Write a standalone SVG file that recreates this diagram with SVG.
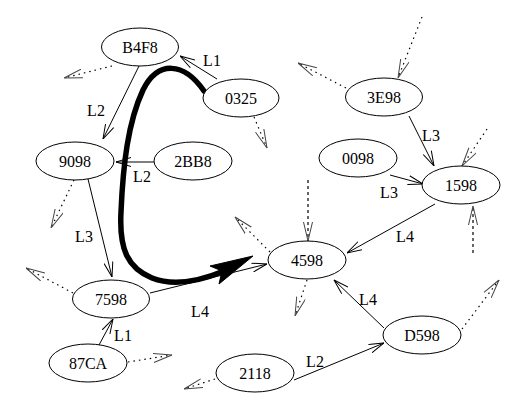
<svg xmlns="http://www.w3.org/2000/svg" width="527" height="412" viewBox="0 0 527 412" font-family="'Liberation Serif', 'Times New Roman', serif">
<style>
.node ellipse{fill:#fff;stroke:#000;stroke-width:1}
text{font-family:'Liberation Serif','Times New Roman',serif;font-size:16px;fill:#000;text-anchor:middle}
.e{stroke:#000;stroke-width:1;fill:none;marker-end:url(#ah)}
.d{stroke:#000;stroke-width:1.2;fill:none;stroke-dasharray:1.5,4;marker-end:url(#dh)}
</style>
<defs>
<marker id="ah" markerUnits="userSpaceOnUse" viewBox="0 0 15 10" refX="15" refY="5" markerWidth="15" markerHeight="10" orient="auto">
<path d="M0,0.5 L15,5 L0,9.5" fill="none" stroke="#000" stroke-width="1"/>
</marker>
<marker id="dh" markerUnits="userSpaceOnUse" viewBox="0 0 19 10" refX="19" refY="5" markerWidth="19" markerHeight="10" orient="auto">
<path d="M0,0.5 L19,5 L0,9.5" fill="none" stroke="#444" stroke-width="1"/>
</marker>
</defs>
<g id="connectors">
<line class="e" x1="217" y1="79" x2="180" y2="56"/>
<line class="e" x1="139" y1="66" x2="103" y2="139"/>
<line class="e" x1="154" y1="162" x2="116" y2="162"/>
<line class="e" x1="88" y1="179" x2="112" y2="277"/>
<line class="e" x1="99" y1="345" x2="113" y2="319"/>
<line class="e" x1="150" y1="293" x2="267" y2="264"/>
<line class="e" x1="409" y1="116" x2="434" y2="166"/>
<line class="e" x1="390" y1="175" x2="423" y2="184"/>
<line class="e" x1="435" y1="204" x2="347" y2="253"/>
<line class="e" x1="384" y1="328" x2="334" y2="280"/>
<line class="e" x1="294" y1="380" x2="384" y2="343"/>
<line class="d" x1="112" y1="66" x2="64" y2="78"/>
<line class="d" x1="254" y1="117" x2="267" y2="148"/>
<line class="d" x1="346" y1="88" x2="298" y2="63"/>
<line class="d" x1="422" y1="17" x2="398" y2="78"/>
<line class="d" x1="487" y1="129" x2="462" y2="166"/>
<line class="d" x1="473" y1="253" x2="473" y2="206" style="stroke-dasharray:3,3"/>
<line class="d" x1="308" y1="180" x2="308" y2="241" style="stroke-dasharray:3,3"/>
<line class="d" x1="270" y1="252" x2="235" y2="217"/>
<line class="d" x1="307" y1="280" x2="295" y2="316"/>
<line class="d" x1="462" y1="329" x2="499" y2="280"/>
<line class="d" x1="74" y1="180" x2="51" y2="228"/>
<line class="d" x1="73" y1="293" x2="26" y2="268"/>
<line class="d" x1="128" y1="362" x2="172" y2="355"/>
<line class="d" x1="215" y1="379" x2="184" y2="389"/>
<path d="M204,91 C184,62 158,60 143,90 C128,122 123,165 121,212 C119,250 128,268 152,278 C175,287 200,281 224,271" fill="none" stroke="#000" stroke-width="5.5" stroke-linecap="round"/>
<polygon points="253,256 210,266 222,271 219,284" fill="#000" stroke="#000" stroke-width="1"/>
</g>
<g id="labels">
<text x="212" y="66">L1</text>
<text x="96" y="116">L2</text>
<text x="142" y="182">L2</text>
<text x="84" y="242">L3</text>
<text x="123" y="341">L1</text>
<text x="200" y="317">L4</text>
<text x="431" y="141">L3</text>
<text x="389" y="198">L3</text>
<text x="405" y="242">L4</text>
<text x="368" y="305">L4</text>
<text x="315" y="367">L2</text>
</g>
<g id="B4F8" class="node"><ellipse cx="140" cy="47" rx="38.5" ry="19"/><text x="140" y="53">B4F8</text></g>
<g id="n0325" class="node"><ellipse cx="241" cy="98" rx="38" ry="19"/><text x="241" y="104">0325</text></g>
<g id="n9098" class="node"><ellipse cx="75" cy="161" rx="39" ry="19"/><text x="75" y="167">9098</text></g>
<g id="n2BB8" class="node"><ellipse cx="193" cy="161" rx="39" ry="19"/><text x="193" y="167">2BB8</text></g>
<g id="n3E98" class="node"><ellipse cx="384" cy="97" rx="38.5" ry="19"/><text x="384" y="103">3E98</text></g>
<g id="n0098" class="node"><ellipse cx="358" cy="158" rx="39" ry="19"/><text x="358" y="164">0098</text></g>
<g id="n1598" class="node"><ellipse cx="461" cy="185" rx="39" ry="19"/><text x="461" y="191">1598</text></g>
<g id="n4598" class="node"><ellipse cx="307" cy="260" rx="39" ry="19"/><text x="307" y="266">4598</text></g>
<g id="n7598" class="node"><ellipse cx="111" cy="299" rx="38.5" ry="19"/><text x="111" y="305">7598</text></g>
<g id="n87CA" class="node"><ellipse cx="88" cy="363" rx="39" ry="19"/><text x="88" y="369">87CA</text></g>
<g id="n2118" class="node"><ellipse cx="255" cy="373" rx="39" ry="19"/><text x="255" y="379">2118</text></g>
<g id="nD598" class="node"><ellipse cx="422" cy="335" rx="39" ry="19"/><text x="422" y="341">D598</text></g>
</svg>
